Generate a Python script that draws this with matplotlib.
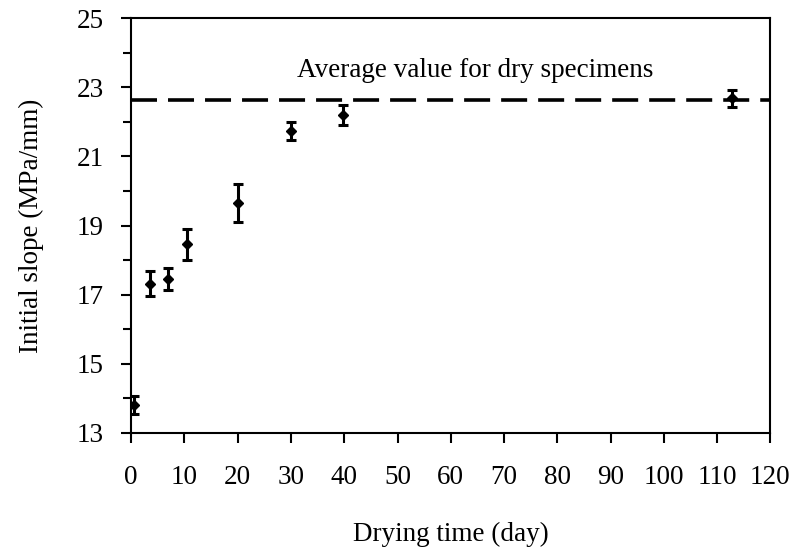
import matplotlib.pyplot as plt
import numpy as np

plt.rcParams['font.family'] = ['Liberation Serif', 'DejaVu Serif']

days = [0.5, 3.6, 7.0, 10.4, 20.0, 30.0, 39.8, 112.8]
slope = [13.8, 17.32, 17.45, 18.46, 19.65, 21.73, 22.2, 22.68]
err = [0.26, 0.35, 0.33, 0.45, 0.56, 0.27, 0.28, 0.24]
dry_avg = 22.63

fig = plt.figure(figsize=(7.95, 5.48), dpi=100)
ax = fig.add_axes([0.165, 0.21, 0.804, 0.757])

ax.axhline(dry_avg, color='black', lw=2.6, dashes=(7.2, 3.05), zorder=1)
ax.errorbar(days, slope, yerr=err, fmt='D', color='black', ms=5,
            elinewidth=2.2, capsize=3.7, capthick=2.2, zorder=3)

ax.text(64.5, 23.29, 'Average value for dry specimens', ha='center', va='baseline', fontsize=19.5)

ax.set_xlim(0, 120)
ax.set_ylim(13, 25)
ax.set_xticks(np.arange(0, 121, 10))
ax.set_yticks(np.arange(13, 26, 2))
ax.set_yticks(np.arange(14, 25, 2), minor=True)
ax.tick_params(axis='both', which='major', direction='out', length=7, width=1.5,
               labelsize=19.5, colors='black')
ax.tick_params(axis='y', which='minor', direction='out', length=6, width=1.5)
ax.tick_params(axis='x', pad=16)
ax.tick_params(axis='y', pad=13)
for s in ax.spines.values():
    s.set_linewidth(1.5)

ax.set_xlabel('Drying time (day)', fontsize=19.5, labelpad=23)
ax.set_ylabel('Initial slope (MPa/mm)', fontsize=19.5, labelpad=23)

fig.savefig('out.png', dpi=100)
